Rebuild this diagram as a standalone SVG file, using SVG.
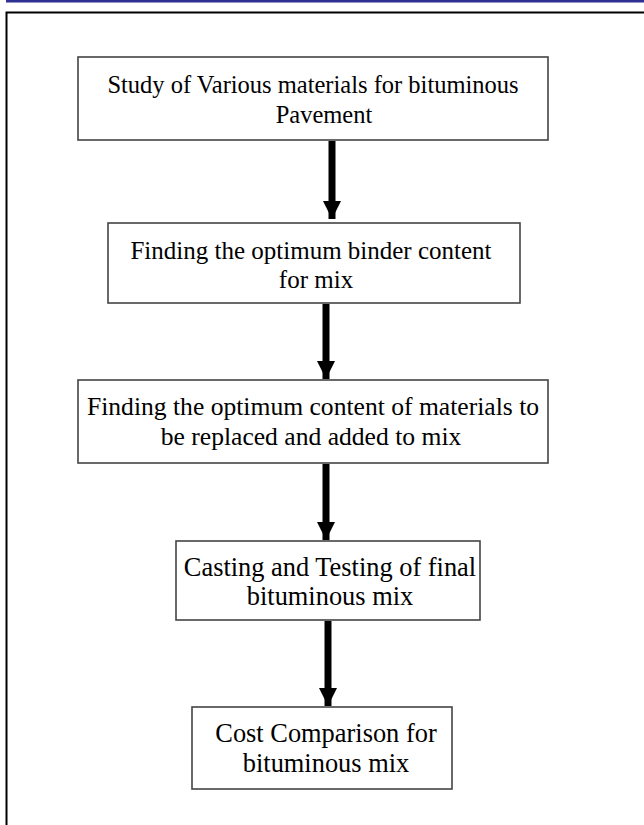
<svg xmlns="http://www.w3.org/2000/svg" width="644" height="825" viewBox="0 0 644 825">
<defs>
<style>
.box{fill:#fff;stroke:#444;stroke-width:1.6}
.t{font-family:"Liberation Serif","Times New Roman",serif;font-size:24.5px;fill:#000;text-anchor:middle}
.t2{font-size:25px}
.t3{font-size:25.6px}
.t4{font-size:26.4px}
.t5{font-size:26.4px}
.arr{stroke:#000;stroke-width:7;fill:none}
</style>
<marker id="ah" markerUnits="userSpaceOnUse" markerWidth="20" markerHeight="20" viewBox="0 0 20 20" refX="18" refY="10" orient="auto">
<path d="M0,1 L18,10 L0,19 Z" fill="#000"/>
</marker>
</defs>
<rect x="6" y="0" width="638" height="2.5" fill="#2e3192"/>
<path d="M6.5,825 L6.5,12.5 L644,12.5" fill="none" stroke="#000" stroke-width="2"/>
<g id="connectors">
<line class="arr" x1="332" y1="141" x2="332" y2="219" marker-end="url(#ah)"/>
<line class="arr" x1="326" y1="304" x2="326" y2="379" marker-end="url(#ah)"/>
<line class="arr" x1="326" y1="464" x2="326" y2="540" marker-end="url(#ah)"/>
<line class="arr" x1="328" y1="621" x2="328" y2="706" marker-end="url(#ah)"/>
</g>
<g id="n1">
<rect class="box" x="78" y="57" width="470" height="83"/>
<text class="t" x="313" y="93">Study of Various materials for bituminous</text>
<text class="t" x="324" y="123">Pavement</text>
</g>
<g id="n2">
<rect class="box" x="108" y="223" width="412" height="80"/>
<text class="t t2" x="311" y="259">Finding the optimum binder content</text>
<text class="t t2" x="316" y="288">for mix</text>
</g>
<g id="n3">
<rect class="box" x="78" y="380" width="470" height="83"/>
<text class="t t3" x="313" y="415">Finding the optimum content of materials to</text>
<text class="t t3" x="311" y="445">be replaced and added to mix</text>
</g>
<g id="n4">
<rect class="box" x="176" y="541" width="304" height="79"/>
<text class="t t4" x="330" y="576">Casting and Testing of final</text>
<text class="t t4" x="330" y="605">bituminous mix</text>
</g>
<g id="n5">
<rect class="box" x="192" y="707" width="260" height="82"/>
<text class="t t5" x="326" y="742">Cost Comparison for</text>
<text class="t t5" x="326" y="772">bituminous mix</text>
</g>
</svg>
